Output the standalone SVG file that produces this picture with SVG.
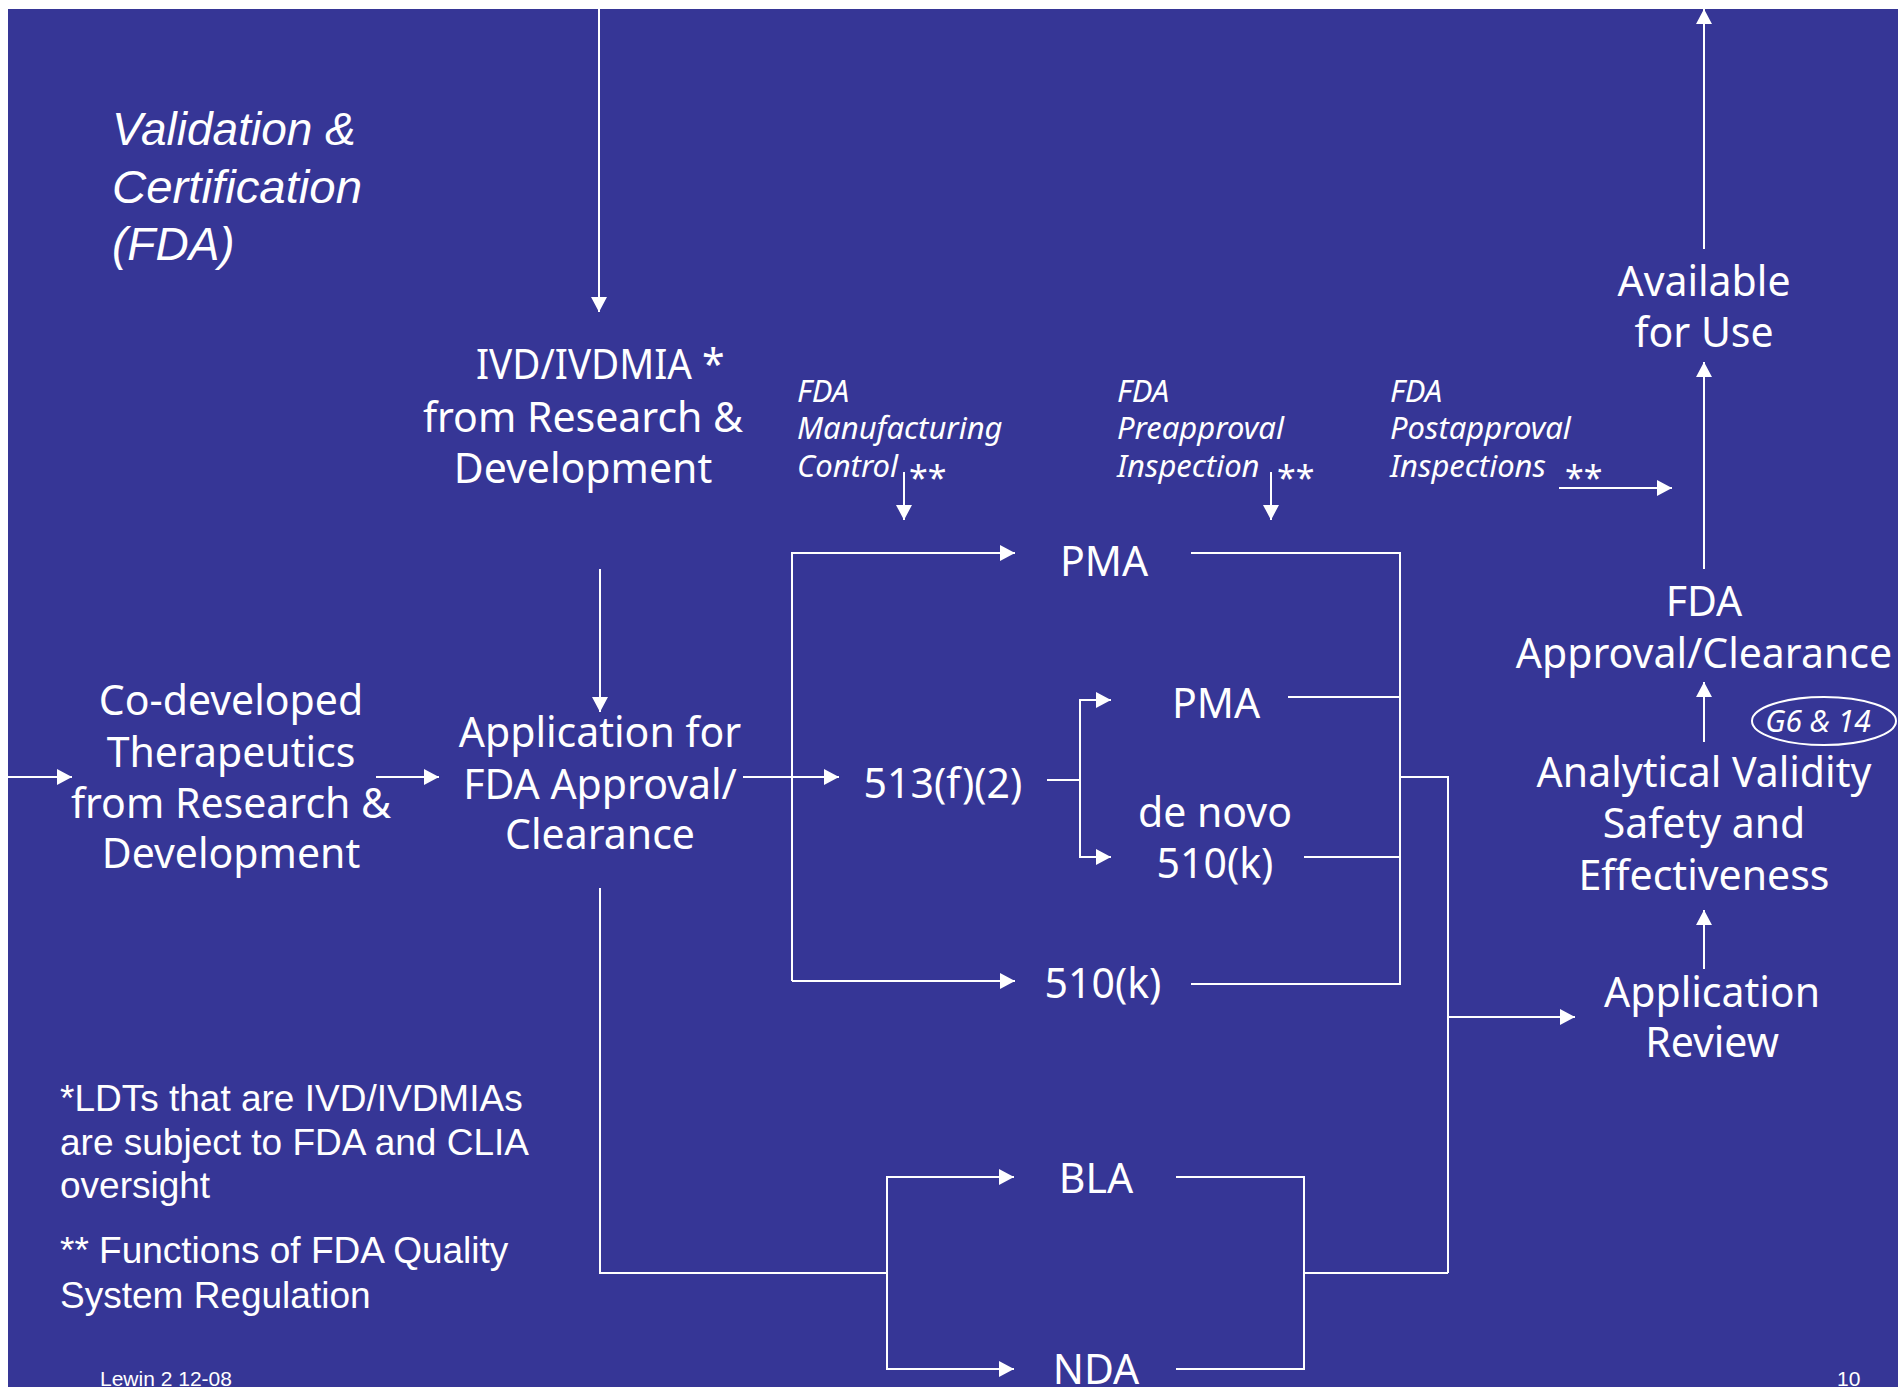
<svg xmlns="http://www.w3.org/2000/svg" width="1898" height="1387" viewBox="0 0 1898 1387">
<defs>
<style>
.lbl{font-family:"Noto Sans","DejaVu Sans",sans-serif;font-size:41px;fill:#fff;text-anchor:middle}
.ann{font-family:"Noto Sans","DejaVu Sans",sans-serif;font-style:italic;font-size:31px;fill:#fff}
.ast{font-family:"Noto Sans","DejaVu Sans",sans-serif;font-size:34px;fill:#fff}
.note{font-family:"Liberation Sans",Arial,sans-serif;font-size:37px;fill:#fff}
.ttl{font-family:"Liberation Sans",Arial,sans-serif;font-style:italic;font-size:46px;fill:#fff}
.foot{font-family:"Liberation Sans",Arial,sans-serif;font-size:21px;fill:#fff}
.c{stroke:#fff;stroke-width:2;fill:none}
.ca{stroke:#fff;stroke-width:2;fill:none;marker-end:url(#ah)}
</style>
<marker id="ah" markerUnits="userSpaceOnUse" markerWidth="16" markerHeight="16" refX="15" refY="8" orient="auto">
<path d="M0,0 L15,8 L0,16 Z" fill="#fff"/>
</marker>
</defs>
<rect x="0" y="0" width="1898" height="1387" fill="#fff"/>
<rect x="8" y="9" width="1890" height="1378" fill="#363696"/>

<g id="title">
<text class="ttl" x="112" y="145">Validation &amp;</text>
<text class="ttl" x="112" y="203" textLength="250" lengthAdjust="spacingAndGlyphs">Certification</text>
<text class="ttl" x="112" y="260">(FDA)</text>
</g>

<g id="connectors">
<path class="ca" d="M599,9 V312"/>
<path class="ca" d="M600,569 V712"/>
<path class="ca" d="M8,777 H72"/>
<path class="ca" d="M376,777 H439"/>
<path class="ca" d="M743,777 H839"/>
<path class="ca" d="M792,981 V553 H1015"/>
<path class="ca" d="M792,981 H1015"/>
<path class="ca" d="M904,472 V520"/>
<path class="ca" d="M1271,472 V520"/>
<path class="ca" d="M1559,488 H1672"/>
<path class="c" d="M1047,780 H1080"/>
<path class="ca" d="M1080,780 V700 H1111"/>
<path class="ca" d="M1080,780 V857 H1111"/>
<path class="c" d="M1191,553 H1400 V984 H1191"/>
<path class="c" d="M1288,697 H1400"/>
<path class="c" d="M1304,857 H1400"/>
<path class="c" d="M1400,777 H1448 V1273"/>
<path class="ca" d="M1448,1017 H1575"/>
<path class="c" d="M600,888 V1273 H887"/>
<path class="ca" d="M887,1273 V1177 H1014"/>
<path class="ca" d="M887,1273 V1369 H1014"/>
<path class="c" d="M1176,1177 H1304 V1369 H1176"/>
<path class="c" d="M1304,1273 H1448"/>
<path class="ca" d="M1704,969 V910"/>
<path class="ca" d="M1704,742 V682"/>
<path class="ca" d="M1704,569 V362"/>
<path class="ca" d="M1704,249 V9"/>
</g>

<g id="ivd">
<text class="lbl" x="476" y="379" style="text-anchor:start" textLength="216" lengthAdjust="spacingAndGlyphs">IVD/IVDMIA</text>
<text class="lbl" x="702" y="379" style="text-anchor:start">*</text>
<text class="lbl" x="583" y="432">from Research &amp;</text>
<text class="lbl" x="583" y="483">Development</text>
</g>

<g id="codeveloped">
<text class="lbl" x="231" y="715">Co-developed</text>
<text class="lbl" x="231" y="767">Therapeutics</text>
<text class="lbl" x="231" y="818">from Research &amp;</text>
<text class="lbl" x="231" y="868">Development</text>
</g>

<g id="application">
<text class="lbl" x="600" y="747">Application for</text>
<text class="lbl" x="600" y="799">FDA Approval/</text>
<text class="lbl" x="600" y="849">Clearance</text>
</g>

<g id="mfg">
<text class="ann" x="797" y="402">FDA</text>
<text class="ann" x="797" y="439">Manufacturing</text>
<text class="ann" x="797" y="477">Control</text>
<text class="ast" x="909" y="490">**</text>
</g>

<g id="preapproval">
<text class="ann" x="1117" y="402">FDA</text>
<text class="ann" x="1117" y="439">Preapproval</text>
<text class="ann" x="1117" y="477">Inspection</text>
<text class="ast" x="1277" y="490">**</text>
</g>

<g id="postapproval">
<text class="ann" x="1390" y="402">FDA</text>
<text class="ann" x="1390" y="439">Postapproval</text>
<text class="ann" x="1390" y="477">Inspections</text>
<text class="ast" x="1565" y="490">**</text>
</g>

<g id="pma1"><text class="lbl" x="1104" y="576">PMA</text></g>
<g id="s513"><text class="lbl" x="943" y="798">513(f)(2)</text></g>
<g id="pma2"><text class="lbl" x="1216" y="718">PMA</text></g>
<g id="denovo">
<text class="lbl" x="1215" y="827">de novo</text>
<text class="lbl" x="1215" y="878">510(k)</text>
</g>
<g id="k510"><text class="lbl" x="1103" y="998">510(k)</text></g>
<g id="bla"><text class="lbl" x="1096" y="1193">BLA</text></g>
<g id="nda"><text class="lbl" x="1096" y="1384">NDA</text></g>

<g id="appreview">
<text class="lbl" x="1712" y="1007">Application</text>
<text class="lbl" x="1712" y="1057">Review</text>
</g>

<g id="analytical">
<text class="lbl" x="1704" y="787">Analytical Validity</text>
<text class="lbl" x="1704" y="838">Safety and</text>
<text class="lbl" x="1704" y="890">Effectiveness</text>
</g>

<g id="g614">
<ellipse cx="1824" cy="721" rx="72" ry="24" class="c"/>
<text class="ann" x="1818" y="732" style="font-size:30px;text-anchor:middle">G6 &amp; 14</text>
</g>

<g id="fdaapproval">
<text class="lbl" x="1704" y="616">FDA</text>
<text class="lbl" x="1704" y="668">Approval/Clearance</text>
</g>

<g id="available">
<text class="lbl" x="1704" y="296">Available</text>
<text class="lbl" x="1704" y="347">for Use</text>
</g>

<g id="notes">
<text class="note" x="60" y="1111">*LDTs that are IVD/IVDMIAs</text>
<text class="note" x="60" y="1155">are subject to FDA and CLIA</text>
<text class="note" x="60" y="1198">oversight</text>
<text class="note" x="60" y="1263">** Functions of FDA Quality</text>
<text class="note" x="60" y="1308">System Regulation</text>
</g>

<g id="footer">
<text class="foot" x="100" y="1386">Lewin 2 12-08</text>
<text class="foot" x="1837" y="1386">10</text>
</g>
</svg>
